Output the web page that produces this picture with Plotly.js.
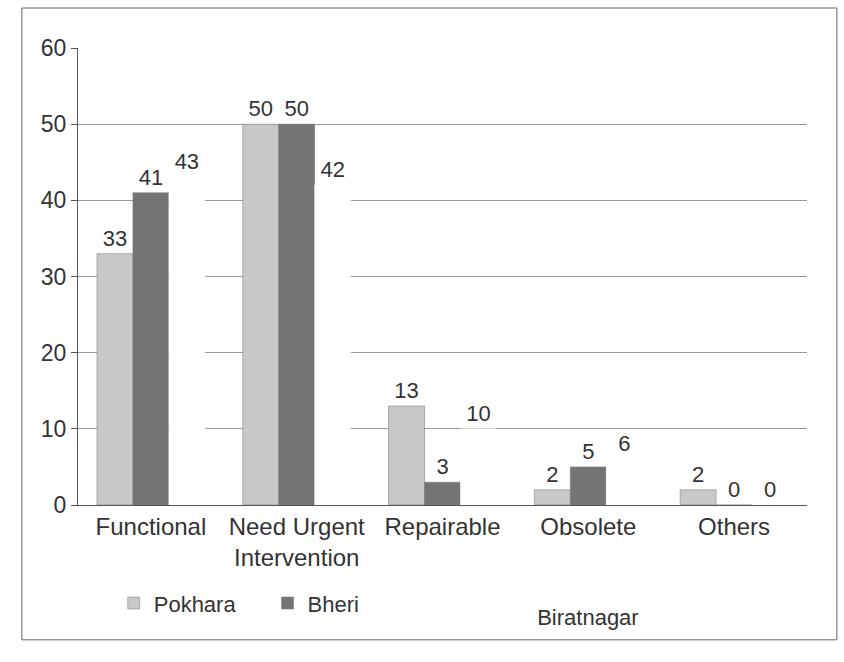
<!DOCTYPE html>
<html><head><meta charset="utf-8">
<script src="https://cdn.plot.ly/plotly-3.0.1.min.js"></script>
<style>body{margin:0;background:#fff}#c{width:844px;height:662px}</style>
</head><body><div id="c"></div>
<script>
const categories = ["Functional", "Need Urgent<br>Intervention", "Repairable", "Obsolete", "Others"];
const pokhara = [33, 50, 13, 2, 2];
const bheri = [41, 50, 3, 5, 0];
const biratnagar = [43, 42, 10, 6, 0];
const yTicks = [0, 10, 20, 30, 40, 50, 60];

const FAM = "Liberation Sans, Arial, sans-serif";
function tr(name, y, color, lg) {
  return {type: "bar", name: name, x: categories, y: y, text: y.map(String),
    textposition: "outside", cliponaxis: false, textfont: {family: FAM, size: 22, color: "#333"},
    marker: {color: color, line: {color: color === "#ffffff" ? "#ffffff" : "#777", width: 0.5}},
    legend: lg};
}
const data = [
  tr("Pokhara", pokhara, "#c8c8c8", "legend"),
  tr("Bheri", bheri, "#747474", "legend2"),
  tr("Biratnagar", biratnagar, "#ffffff", "legend3")
];
function leg(x, y) {
  return {orientation: "h", xanchor: "left", x: x, yanchor: "middle", y: y,
    font: {family: FAM, size: 22, color: "#333"}, bgcolor: "rgba(0,0,0,0)"};
}
const layout = {
  width: 844, height: 662,
  margin: {l: 78, r: 37, t: 48, b: 157},
  paper_bgcolor: "#fff", plot_bgcolor: "#fff",
  barmode: "group", bargap: 0.26, bargroupgap: 0,
  font: {family: FAM, size: 22, color: "#333"},
  xaxis: {tickfont: {family: FAM, size: 24, color: "#333"}, showline: true, linecolor: "#555", linewidth: 1,
    ticks: "", fixedrange: true},
  yaxis: {range: [0, 60], tickvals: yTicks, ticktext: yTicks.map(String), showgrid: true, gridcolor: "#999",
    gridwidth: 1, showline: true, linecolor: "#555", linewidth: 1, ticks: "outside", ticklen: 6,
    tickcolor: "#555", tickfont: {family: FAM, size: 23, color: "#333"}, zeroline: false},
  showlegend: true,
  legend: leg(0.049, -0.215),
  legend2: leg(0.26, -0.215),
  legend3: leg(0.575, -0.245),
  shapes: [{type: "rect", xref: "paper", yref: "paper", x0: -0.077, x1: 1.041, y0: -0.295, y1: 1.0875,
    line: {color: "#666", width: 1}, fillcolor: "rgba(0,0,0,0)", layer: "below"}]
};
Plotly.newPlot("c", data, layout, {displayModeBar: false, staticPlot: true});
</script></body></html>
